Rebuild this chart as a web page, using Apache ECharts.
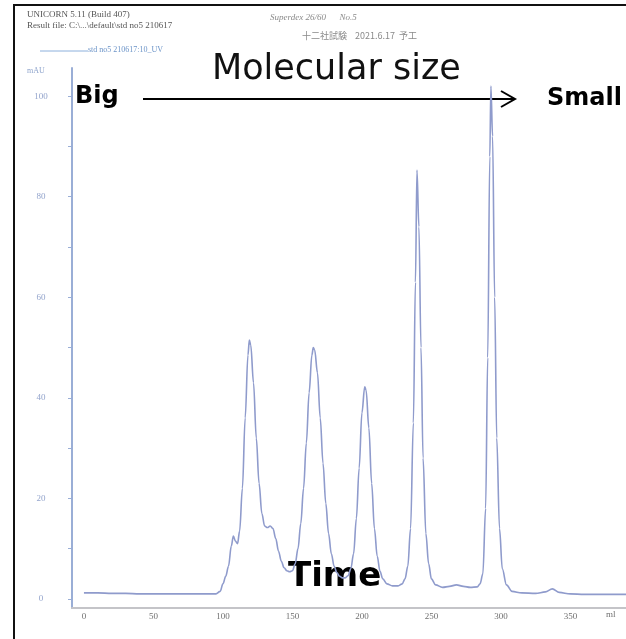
<!DOCTYPE html>
<html>
<head>
<meta charset="utf-8">
<script src="https://cdn.jsdelivr.net/npm/echarts@6/dist/echarts.min.js"></script>
<style>
html,body{margin:0;padding:0;background:#fff;}
#chart{width:626px;height:639px;}
</style>
</head>
<body>
<div id="chart"></div>
<script>
// Elution volume (ml)
const volume = [0,10,20,30,40,50,60,70,80,90,95,98,100,102,104,106,107.5,109,110.5,112,114,116,118,119,120,122,124,126,128,130,132,134,136,138,140,142,144,146,148,150,152,154,156,158,160,162,164,165,166,168,170,172,174,176,178,180,182,184,186,188,190,192,194,196,198,200,202,203,205,207,209,211,213,215,218,222,226,229,231,233,235,237,238.5,239.6,241,242.5,244,246,248,250,253,258,263,268,273,278,283,285,287,289,290.5,292,292.8,294,295.5,297,299,301,304,308,315,325,332,337,342,350,360,375,390];
// UV absorbance (mAU)
const absorbance = [1.2,1.2,1.1,1.1,1.0,1.0,1.0,1.0,1.0,1.0,1.0,1.5,3.0,4.5,6.5,10.5,12.5,11.5,11.0,13.5,22,36,48.5,51.5,50.5,43,32,23,17,14.5,14.2,14.5,14,12,9.5,7.5,6.2,5.6,5.4,5.6,7,10,15,22,31,41,48.5,50,49.5,45,36,27,19,13,9,6.5,5.2,4.5,4.2,4.2,4.6,6,9,16,26,37,42.2,41.5,34,23,14,8.5,5.5,4,3,2.6,2.6,3,4,6.5,14,35,63,85.3,74,50,28,13,7,4,2.8,2.3,2.5,2.8,2.5,2.3,2.4,3,5,18,48,88,102,92,60,32,14,6,2.8,1.5,1.2,1.1,1.4,2.0,1.3,1.0,0.9,0.9,0.9];
const xTickLabels = [0,50,100,150,200,250,300,350];
const yTickLabels = [0,20,40,60,80,100];
const yMinorTicks = [0,10,20,30,40,50,60,70,80,90,100];

const seriesData = volume.map((v,i)=>[v, absorbance[i]]);

const chart = echarts.init(document.getElementById('chart'), null, {renderer:'canvas'});
const serif = '"Liberation Serif", "DejaVu Serif", serif';
const sans = '"DejaVu Sans", Verdana, sans-serif';

chart.setOption({
  animation:false,
  backgroundColor:'#ffffff',
  grid:{left:72, top:68, right:0, bottom:31, containLabel:false, outerBoundsMode:'none'},
  xAxis:{
    type:'value', min:-8.6, max:390,
    axisLine:{show:true, onZero:false, lineStyle:{color:'#c4c4c8', width:2}},
    axisTick:{show:false},
    splitLine:{show:false},
    axisLabel:{customValues:xTickLabels, margin:4, fontFamily:serif, fontSize:9, color:'#707070'}
  },
  yAxis:{
    type:'value', min:-1.8, max:105.6,
    axisLine:{show:true, onZero:false, lineStyle:{color:'#9aaed6', width:2}},
    axisTick:{show:true, customValues:yMinorTicks, length:4, lineStyle:{color:'#9aaed6'}},
    splitLine:{show:false},
    axisLabel:{customValues:yTickLabels, margin:31, align:'center', fontFamily:serif, fontSize:9, color:'#93a4cc'}
  },
  series:[{
    type:'line', data:seriesData, showSymbol:false, smooth:0.35, smoothMonotone:'x',
    lineStyle:{color:'#8f9bcc', width:1.6}
  }],
  graphic:[
    {type:'rect', shape:{x:14, y:5, width:700, height:700}, style:{fill:null, stroke:'#111', lineWidth:2}, silent:true},
    {type:'text', x:27, y:15, style:{text:'UNICORN 5.11 (Build 407)', font:'9px '+serif, fill:'#555', verticalAlign:'middle'}},
    {type:'text', x:27, y:26, style:{text:'Result file: C:\\...\\default\\std no5 210617', font:'9px '+serif, fill:'#555', verticalAlign:'middle'}},
    {type:'line', shape:{x1:40, y1:51, x2:88, y2:51}, style:{stroke:'#8cb0dc', lineWidth:1}},
    {type:'text', x:88, y:50, style:{text:'std no5 210617:10_UV', font:'8px '+serif, fill:'#6c94c8', verticalAlign:'middle'}},
    {type:'text', x:27, y:71, style:{text:'mAU', font:'8px '+serif, fill:'#8ea4cc', verticalAlign:'middle'}},
    {type:'text', x:270, y:18, style:{text:'Superdex 26/60      No.5', font:'italic 9px '+serif, fill:'#8a8a8a', verticalAlign:'middle'}},
    {type:'text', x:302, y:36, style:{text:'十二社試験    2021.6.17  予工', font:'9px "Noto Sans CJK JP", sans-serif', fill:'#8a8a8a', verticalAlign:'middle'}},
    {type:'text', x:212, y:70, style:{text:'Molecular size', font:'35px '+sans, fill:'#111', verticalAlign:'middle'}},
    {type:'text', x:75, y:97, style:{text:'Big', font:'bold 24px '+sans, fill:'#000', verticalAlign:'middle'}},
    {type:'text', x:547, y:99, style:{text:'Small', font:'bold 24px '+sans, fill:'#000', verticalAlign:'middle'}},
    {type:'line', shape:{x1:143, y1:99, x2:514, y2:99}, style:{stroke:'#000', lineWidth:2}},
    {type:'polyline', shape:{points:[[501,91],[515,99],[501,107]]}, style:{stroke:'#000', lineWidth:2, fill:null}},
    {type:'text', x:288, y:577, style:{text:'Time', font:'bold 34px '+sans, fill:'#000', verticalAlign:'middle'}},
    {type:'text', x:606, y:615, style:{text:'ml', font:'9px '+serif, fill:'#707070', verticalAlign:'middle'}}
  ]
});
</script>
</body>
</html>
